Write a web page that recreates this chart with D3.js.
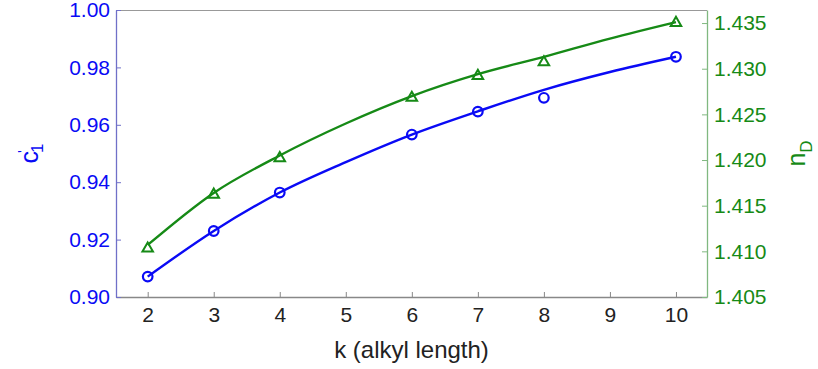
<!DOCTYPE html>
<html><head><meta charset="utf-8">
<script src="https://cdn.jsdelivr.net/npm/d3@7"></script>
<style>body{margin:0;background:#fff}svg{display:block;font-family:"Liberation Sans",Arial,sans-serif}</style>
</head><body><svg id="c" width="818" height="369"></svg>
<script>
// data
const kValues = [2, 3, 4, 6, 7, 8, 10];
const c1Values = [0.9071, 0.9230, 0.9364, 0.9566, 0.9646, 0.9694, 0.9837];
const nDValues = [1.4104, 1.4163, 1.4203, 1.4269, 1.4293, 1.4308, 1.4351];
const fitK = [2, 3, 4, 5, 6, 7, 8, 9, 10];
const c1Fit = [0.9071, 0.9230, 0.9364, 0.9470, 0.9566, 0.9647, 0.9722, 0.9784, 0.9837];
const nDFit = [1.4107, 1.4164, 1.4205, 1.4240, 1.4270, 1.4294, 1.4313, 1.4333, 1.4351];
const xTicks = [2, 3, 4, 5, 6, 7, 8, 9, 10];
const leftTicks = [0.90, 0.92, 0.94, 0.96, 0.98, 1.00];
const rightTicks = [1.405, 1.410, 1.415, 1.420, 1.425, 1.430, 1.435];

const L = 116, R = 707, T = 10, B = 297;
const blue = "#0a0af5", green = "#168a16";
const svg = d3.select("#c");
const x = d3.scaleLinear().domain([1.52, 10.47]).range([L, R]);
const yL = d3.scaleLinear().domain([0.90, 1.00]).range([B, T]);
const yR = d3.scaleLinear().domain([1.405, 1.43643]).range([B, T]);

// box top
svg.append("line").attr("x1", L).attr("x2", R).attr("y1", T + 0.5).attr("y2", T + 0.5).attr("stroke", "#999").attr("stroke-width", 1.2);

// bottom axis
const gx = svg.append("g").attr("transform", `translate(0,${B})`)
  .call(d3.axisBottom(x).tickValues(xTicks).tickFormat(d3.format("d")).tickSizeInner(-5).tickSizeOuter(0).tickPadding(10));
gx.select(".domain").attr("stroke", "#888").attr("stroke-width", 1.5);
gx.selectAll(".tick line").attr("stroke", "#888");
gx.selectAll("text").attr("font-size", 21).attr("fill", "#222").attr("font-family", "Liberation Sans, Arial, sans-serif");

// left axis
const gl = svg.append("g").attr("transform", `translate(${L},0)`)
  .call(d3.axisLeft(yL).tickValues(leftTicks).tickFormat(d3.format(".2f")).tickSizeInner(-5).tickSizeOuter(0).tickPadding(6));
gl.select(".domain").attr("stroke", "#7070c8").attr("stroke-width", 1.3);
gl.selectAll(".tick line").attr("stroke", "#7070c8");
gl.selectAll("text").attr("font-size", 21).attr("fill", blue).attr("font-family", "Liberation Sans, Arial, sans-serif");

// right axis
const gr = svg.append("g").attr("transform", `translate(${R},0)`)
  .call(d3.axisRight(yR).tickValues(rightTicks).tickFormat(d3.format(".3f")).tickSizeInner(-5).tickSizeOuter(0).tickPadding(7));
gr.select(".domain").attr("stroke", "#80b880").attr("stroke-width", 1.3);
gr.selectAll(".tick line").attr("stroke", "#80b880");
gr.selectAll("text").attr("font-size", 21).attr("fill", green).attr("font-family", "Liberation Sans, Arial, sans-serif");

// fit lines
const lineB = d3.line().x((d, i) => x(fitK[i])).y(d => yL(d)).curve(d3.curveMonotoneX);
const lineG = d3.line().x((d, i) => x(fitK[i])).y(d => yR(d)).curve(d3.curveMonotoneX);
svg.append("path").attr("d", lineG(nDFit)).attr("fill", "none").attr("stroke", green).attr("stroke-width", 2.4);
svg.append("path").attr("d", lineB(c1Fit)).attr("fill", "none").attr("stroke", blue).attr("stroke-width", 2.4);

// markers
svg.selectAll("circle.m").data(c1Values).enter().append("circle")
  .attr("cx", (d, i) => x(kValues[i])).attr("cy", d => yL(d)).attr("r", 4.8)
  .attr("fill", "none").attr("stroke", blue).attr("stroke-width", 2.2);
const tri = d3.symbol().type(d3.symbolTriangle).size(48);
svg.selectAll("path.t").data(nDValues).enter().append("path")
  .attr("d", tri).attr("transform", (d, i) => `translate(${x(kValues[i])},${yR(d) + 0.8})`)
  .attr("fill", "none").attr("stroke", green).attr("stroke-width", 2);

// axis labels
svg.append("text").attr("x", (L + R) / 2).attr("y", 358).attr("text-anchor", "middle")
  .attr("font-size", 24).attr("fill", "#222").text("k (alkyl length)");
const cl = svg.append("text").attr("transform", `translate(38,${(T + B) / 2}) rotate(-90)`)
  .attr("text-anchor", "middle").attr("font-size", 25).attr("fill", blue);
cl.append("tspan").text("c");
cl.append("tspan").attr("font-size", 15).attr("dy", -10).attr("dx", -2).text("'");
cl.append("tspan").attr("font-size", 17).attr("dy", 15).attr("dx", -3).text("1");
const nl = svg.append("text").attr("transform", `translate(805,${(T + B) / 2}) rotate(-90)`)
  .attr("text-anchor", "middle").attr("font-size", 25).attr("fill", green);
nl.append("tspan").text("n");
nl.append("tspan").attr("font-size", 17).attr("dy", 7).text("D");
</script></body></html>
